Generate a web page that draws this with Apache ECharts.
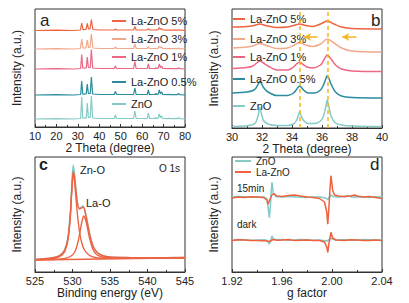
<!DOCTYPE html>
<html>
<head>
<meta charset="utf-8">
<script src="https://cdn.jsdelivr.net/npm/echarts@6.0.0/dist/echarts.min.js"></script>
<style>
  html, body { margin: 0; padding: 0; background: #fff; }
  #charts { width: 409px; height: 303px; }
</style>
</head>
<body>
<div id="charts"></div>
<script>
// ---- data ----
var sampleNames = ['ZnO', 'La-ZnO 0.5%', 'La-ZnO 1%', 'La-ZnO 3%', 'La-ZnO 5%'];
var sampleColors = ['#86cbc6', '#2a8c9e', '#ec6784', '#f0a88c', '#ee6442'];

// panel a: XRD 10-80 deg, curves stacked with offsets
var xrdZnO = [[10,8],[20,8.3],[28,8],[31.3,8.5],[31.8,30],[32.3,8.8],[33.9,9],[34.4,24],[34.9,9.5],[35.8,9.5],[36.3,31],[36.9,9],[40,8.5],[47,8.5],[47.5,12],[48.1,8.5],[56,8.5],[56.6,16],[57.2,8.5],[62.4,8.5],[62.9,14],[63.4,8.5],[66,8.5],[66.4,9.5],[66.8,8.5],[67.5,8.8],[68,13],[68.5,9.5],[69.1,11],[69.6,8.5],[72.2,8.3],[72.6,9],[73,8.3],[76.5,8.3],[77,9.5],[77.5,8.3],[80,8]];
var xrd05 = [[10,32],[20,32.3],[28,32],[31.3,32.5],[31.8,46],[32.3,32.8],[33.9,33],[34.4,43],[34.9,33.5],[35.8,33.5],[36.3,50],[36.9,33],[40,32.5],[47,32.5],[47.5,35.5],[48.1,32.5],[56,32.5],[56.6,39],[57.2,32.5],[62.4,32.5],[62.9,37],[63.4,32.5],[66,32.5],[66.4,33.5],[66.8,32.5],[67.5,32.8],[68,37],[68.5,33.5],[69.1,35],[69.6,32.5],[72.2,32.3],[72.6,32.8],[73,32.3],[76.5,32.3],[77,33.5],[77.5,32.3],[80,32]];
var xrd1 = [[10,58],[20,58.3],[28,58],[31.3,58.5],[31.8,72.5],[32.3,58.8],[33.9,59],[34.4,70],[34.9,59.5],[35.8,59.5],[36.3,77.5],[36.9,59],[40,58.5],[47,58.5],[47.5,61],[48.1,58.5],[56,58.5],[56.6,65.5],[57.2,58.5],[62.4,58.5],[62.9,63],[63.4,58.5],[66,58.5],[66.4,59.3],[66.8,58.5],[67.5,58.8],[68,63],[68.5,59.5],[69.1,61],[69.6,58.5],[72.2,58.3],[72.6,58.8],[73,58.3],[76.5,58.3],[77,59.3],[77.5,58.3],[80,58]];
var xrd3 = [[10,78],[20,78.3],[28,78],[31.2,78.5],[31.8,88],[32.4,78.8],[33.8,79],[34.4,87],[35,79.5],[35.7,79.5],[36.3,93],[37,79],[40,78.5],[47,78.5],[47.5,80],[48.1,78.5],[56,78.5],[56.6,83],[57.2,78.5],[62.4,78.5],[62.9,80.5],[63.4,78.5],[66,78.5],[66.4,78.8],[66.8,78.5],[67.5,78.8],[68,81],[68.5,79.2],[69.1,80],[69.6,78.5],[72.2,78.3],[72.6,78.5],[73,78.3],[76.5,78.3],[77,79],[77.5,78.3],[80,78]];
var xrd5 = [[10,96.5],[20,96.8],[28,96.5],[31.2,97],[31.8,104],[32.4,97.3],[33.8,97.5],[34.4,103.5],[35,98],[35.7,98],[36.3,107.5],[37,97.5],[40,97],[47,97],[47.5,98],[48.1,97],[56,97],[56.6,100.5],[57.2,97],[62.4,97],[62.9,98.5],[63.4,97],[66,97],[66.4,97.3],[66.8,97],[67.5,97.3],[68,99.5],[68.5,97.8],[69.1,98.5],[69.6,97],[72.2,96.8],[72.6,97],[73,96.8],[76.5,96.8],[77,97.3],[77.5,96.8],[80,96.5]];

// panel b: zoom 30-40 deg
var zoomZnO = [[30,1.5],[31,2.2],[31.4,3.5],[31.6,6],[31.75,13],[31.85,20.5],[31.95,15],[32.1,7.5],[32.4,4],[33,2.5],[33.7,2.5],[34.1,4],[34.3,7.5],[34.42,12.5],[34.5,15.7],[34.6,12.5],[34.8,7],[35.1,4.5],[35.5,4.5],[35.9,7],[36.1,12],[36.25,21],[36.35,28],[36.45,22],[36.6,12],[36.9,5],[37.3,3],[38,2],[40,1.5]];
var zoom05 = [[30,35],[31,36],[31.4,37.5],[31.6,40],[31.75,44],[31.85,46.7],[31.95,45],[32.1,40.5],[32.4,36],[33,32.5],[33.7,32.5],[34.1,35],[34.3,38.5],[34.42,41],[34.5,42],[34.6,41],[34.8,37.5],[35.1,35],[35.5,35],[35.9,38],[36.1,43],[36.25,49],[36.35,52.5],[36.45,50],[36.6,44],[36.9,36],[37.3,32],[38,30.5],[40,30]];
var zoom1 = [[30,59.5],[31,60.5],[31.4,62],[31.6,64.5],[31.85,67],[32.1,65],[32.4,62],[33,58],[33.7,58],[34.1,61],[34.3,64],[34.5,65.7],[34.7,64],[35,61],[35.4,60],[35.9,63],[36.1,67.5],[36.35,73],[36.6,69],[36.9,63],[37.3,59],[38,57],[40,56.5]];
var zoom3 = [[30,80],[31,81],[31.4,82],[31.85,84.5],[32.3,82.5],[33,79.5],[33.7,80],[34.1,82.5],[34.5,85.5],[34.9,83],[35.4,81.5],[35.9,84],[36.35,89],[36.8,85],[37.3,80],[38,77],[40,76]];
var zoom5 = [[30,101],[31,101.5],[31.4,102.3],[31.85,104],[32.3,102.3],[33,100.5],[33.7,101],[34.1,102.5],[34.5,104],[34.9,102.5],[35.4,101.5],[35.9,104],[36.35,107],[36.8,104],[37.3,101],[38,99.5],[40,99]];
var shiftLines = [34.5, 36.4];
var shiftArrows = [[[35.7, 91], [34.8, 91]], [[38.3, 91], [37.35, 91]]];

// panel c: O 1s XPS
var xpsRaw = [[525,12.5],[526,13],[527,13.8],[528,15.5],[528.6,18.5],[529,23],[529.4,35],[529.7,58],[529.9,85],[530.1,107],[530.3,95],[530.6,72],[530.9,64],[531.15,64.5],[531.4,66],[531.7,60],[532,49],[532.4,34],[532.8,25],[533.3,19.5],[534,16.5],[535,15],[537,14.5],[540,14.2],[545,14.5]];
var xpsFit = [[525,12.5],[527,13.8],[528,15.3],[528.6,18.3],[529,22.5],[529.4,34],[529.7,56],[529.9,82],[530.1,100.5],[530.3,93],[530.6,72],[530.9,63],[531.2,64],[531.45,65],[531.7,59.5],[532,48.5],[532.4,34],[532.8,25],[533.3,19.5],[534,16.5],[535,15],[537,14.5],[540,14.2],[545,14.5]];
var xpsZnO = [[525,12.3],[527,13.2],[528,14.5],[528.6,17],[529,21],[529.4,32],[529.7,54],[529.9,80],[530.1,98.7],[530.3,88],[530.6,62],[530.9,42],[531.2,30],[531.6,22],[532.2,17],[533,14.5],[535,13.6],[540,13.7],[545,14]];
var xpsLaO = [[525,12],[528,12.8],[529,13.5],[529.8,16],[530.3,20],[530.7,29],[531,40],[531.25,50],[531.5,56],[531.75,52],[532,44],[532.3,33],[532.7,23],[533.2,17.5],[534,15],[535,14.2],[540,13.9],[545,14.2]];
var xpsBase = [[525,12],[545,14.3]];

// panel d: EPR, light (15min) and dark
var eprZnO15 = [[1.92,75],[1.925,75.4],[1.93,75.2],[1.935,74.7],[1.94,74.9],[1.946,75],[1.948,73],[1.9499,54.3],[1.9508,68],[1.9513,80],[1.952,89.7],[1.953,79],[1.955,75.5],[1.96,75],[1.965,75.4],[1.97,75.2],[1.975,74.8],[1.98,74.7],[1.985,75.1],[1.99,75],[1.995,74],[1.9966,72.5],[1.998,75],[1.9995,77],[2.001,75.2],[2.005,75],[2.01,75.3],[2.013,76.5],[2.016,75],[2.02,75.3],[2.025,74.9],[2.03,74.8],[2.035,75.2],[2.04,75]];
var eprLa15 = [[1.92,74],[1.925,75],[1.93,74.5],[1.935,75.2],[1.94,75],[1.945,74.5],[1.948,72],[1.9488,67.7],[1.9505,73],[1.952,77],[1.9535,78.5],[1.956,76],[1.96,75.5],[1.965,76.5],[1.97,77],[1.975,76],[1.98,75],[1.985,74.5],[1.99,73.5],[1.994,70],[1.9958,60],[1.9966,47.7],[1.9975,64],[1.9985,85],[1.9992,96.3],[2.0005,82],[2.002,77],[2.005,76],[2.01,75.5],[2.015,76],[2.018,77],[2.02,76],[2.025,75],[2.03,75.5],[2.035,74.5],[2.04,73.5]];
var eprZnODark = [[1.92,32],[1.925,32.4],[1.93,32.2],[1.935,31.8],[1.94,32],[1.946,32.3],[1.948,31.5],[1.9499,28],[1.9508,31],[1.952,36],[1.953,33],[1.956,32.2],[1.96,32.5],[1.965,31.8],[1.97,32],[1.975,32.4],[1.98,32.3],[1.985,31.8],[1.99,32],[1.996,31],[1.9985,33],[2.0,33.5],[2.003,32],[2.01,32.3],[2.015,31.8],[2.02,32],[2.025,32.4],[2.03,32.3],[2.035,31.9],[2.04,32]];
var eprLaDark = [[1.92,31.5],[1.925,32.2],[1.93,32],[1.935,31.4],[1.94,31.5],[1.948,31],[1.95,30.5],[1.953,32.5],[1.956,31.8],[1.96,32],[1.965,32.4],[1.97,31.5],[1.975,31.8],[1.98,32],[1.985,31.6],[1.99,31.5],[1.994,30],[1.9958,25],[1.9966,19.7],[1.9975,28],[1.9985,35],[1.9992,39.7],[2.0005,34],[2.003,32],[2.01,31.5],[2.015,32.2],[2.02,32],[2.025,31.6],[2.03,31.5],[2.035,32],[2.04,31.5]];

var eprNames = ['ZnO', 'La-ZnO'];
var eprColors = ['#7fcac8', '#f0603c'];

// ---- chart ----
var FONT = 'Liberation Sans, Arial, sans-serif';
var chart = echarts.init(document.getElementById('charts'), null, { renderer: 'svg' });

var grids = [
  { left: 35, top: 9, width: 150, height: 118 },
  { left: 232, top: 9, width: 150, height: 119 },
  { left: 35, top: 157, width: 150, height: 115 },
  { left: 232, top: 157, width: 150, height: 115 }
].map(function (g) {
  return Object.assign({ show: true, borderColor: '#333', borderWidth: 1, containLabel: false }, g);
});

function xAx(i, min, max, interval, name, fmt) {
  return {
    gridIndex: i, type: 'value', min: min, max: max, interval: interval,
    name: name, nameLocation: 'middle', nameGap: 13,
    nameTextStyle: { fontSize: 12, color: '#222', fontFamily: FONT },
    axisLine: { lineStyle: { color: '#333' } },
    axisTick: { inside: true, length: 3, lineStyle: { color: '#333' } },
    minorTick: { show: true, splitNumber: 2, length: 2, lineStyle: { color: '#333' } },
    axisLabel: { fontSize: 11, color: '#222', margin: 3, fontFamily: FONT, formatter: fmt },
    splitLine: { show: false }
  };
}
function yAx(i, max) {
  return {
    gridIndex: i, type: 'value', min: 0, max: max,
    name: 'Intensity (a.u.)', nameLocation: 'middle', nameGap: 12,
    nameTextStyle: { fontSize: 12, color: '#222', fontFamily: FONT },
    axisLine: { show: false }, axisTick: { show: false },
    axisLabel: { show: false }, splitLine: { show: false }
  };
}

function line(i, name, data, color, width, smooth, extra) {
  return Object.assign({
    type: 'line', name: name, xAxisIndex: i, yAxisIndex: i, data: data,
    symbol: 'none', smooth: smooth, animation: false, silent: true,
    lineStyle: { color: color, width: width }, itemStyle: { color: color }
  }, extra || {});
}

var xrdA = [xrdZnO, xrd05, xrd1, xrd3, xrd5];
var xrdB = [zoomZnO, zoom05, zoom1, zoom3, zoom5];

var series = [];
xrdA.forEach(function (d, k) { series.push(line(0, sampleNames[k], d, sampleColors[k], 1.2, false)); });
xrdB.forEach(function (d, k) {
  var extra = {};
  if (k === 0) {
    extra.markLine = {
      silent: true, symbol: 'none', animation: false, label: { show: false },
      lineStyle: { color: '#f6b51e', type: [4, 3], width: 1.5 },
      data: shiftLines.map(function (v) { return { xAxis: v }; })
    };
  }
  if (k === 3) {
    extra.markLine = {
      silent: true, symbol: ['none', 'arrow'], symbolSize: [6, 7], animation: false, label: { show: false },
      lineStyle: { color: '#f6b51e', type: 'solid', width: 1.5 },
      data: shiftArrows.map(function (a) { return [{ coord: a[0] }, { coord: a[1] }]; })
    };
  }
  series.push(line(1, sampleNames[k], d, sampleColors[k], 1.5, 0.3, extra));
});
series.push(line(2, 'raw', xpsRaw, '#86cbc6', 1.6, 0.3));
series.push(line(2, 'fit', xpsFit, '#ee6442', 1.4, 0.3));
series.push(line(2, 'Zn-O', xpsZnO, '#ee6442', 1.4, 0.3));
series.push(line(2, 'La-O', xpsLaO, '#ee6442', 1.4, 0.3));
series.push(line(2, 'base', xpsBase, '#ee6442', 1.4, false));
series.push(line(3, eprNames[0], eprZnO15, eprColors[0], 1.5, false));
series.push(line(3, eprNames[1], eprLa15, eprColors[1], 1.5, false));
series.push(line(3, eprNames[0], eprZnODark, eprColors[0], 1.5, false));
series.push(line(3, eprNames[1], eprLaDark, eprColors[1], 1.5, false));

function leg(name, left, cy, w, fs) {
  fs = fs || 11;
  return {
    data: [name], left: left, top: cy - fs / 2, padding: 0, itemGap: 0,
    icon: 'rect', itemWidth: w, itemHeight: 2, selectedMode: false,
    textStyle: { fontSize: fs, color: '#222', fontFamily: FONT, lineHeight: fs }
  };
}
var legends = [];
var legA = [104, 82, 57, 39, 21];
var legB = [106, 79, 57, 39, 19];
sampleNames.forEach(function (n, k) { legends.push(leg(n, 112, legA[k], 14)); });
sampleNames.forEach(function (n, k) { legends.push(leg(n, 233, legB[k], 12)); });
legends.push(leg(eprNames[0], 235, 161, 16, 10));
legends.push(leg(eprNames[1], 235, 172, 16, 10));

function txt(s, x, y, size, weight) {
  return {
    type: 'text', x: x, y: y, silent: true,
    style: { text: s, fill: '#222', font: (weight || 'normal') + ' ' + size + 'px ' + FONT, verticalAlign: 'middle', align: 'left' }
  };
}

chart.setOption({
  animation: false,
  backgroundColor: '#fff',
  grid: grids,
  xAxis: [
    xAx(0, 10, 80, 10, '2 Theta (degree)'),
    xAx(1, 30, 40, 2, '2 Theta (degree)'),
    xAx(2, 525, 545, 5, 'Binding energy (eV)'),
    xAx(3, 1.92, 2.04, 0.04, 'g factor', function (v) { return v.toFixed(2); })
  ],
  yAxis: [yAx(0, 118), yAx(1, 119), yAx(2, 115), yAx(3, 115)],
  legend: legends,
  series: series,
  graphic: [
    txt('a', 40, 20, 17),
    txt('b', 371, 20, 17),
    txt('c', 39, 164, 16, 'bold'),
    txt('d', 370, 164, 17),
    txt('Zn-O', 80, 170, 11),
    txt('La-O', 86, 203, 11),
    txt('O 1s', 159, 168, 10),
    txt('15min', 237, 188, 10),
    txt('dark', 237, 224, 10)
  ]
});
</script>
</body>
</html>
